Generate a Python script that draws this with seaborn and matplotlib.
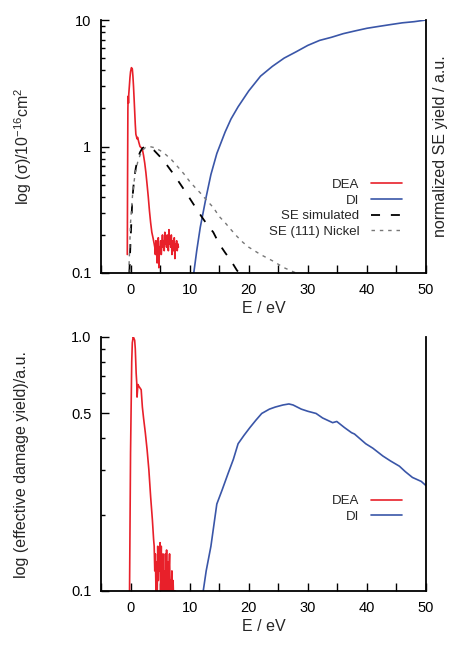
import numpy as np
import pandas as pd
import matplotlib
matplotlib.use("Agg")
import matplotlib.pyplot as plt
from matplotlib.ticker import FixedLocator, NullFormatter
import seaborn as sns

sns.set_style("ticks")
plt.rcParams["font.family"] = ["Liberation Sans", "DejaVu Sans"]
plt.rcParams["mathtext.fontset"] = "custom"
plt.rcParams["mathtext.rm"] = "Liberation Sans"
plt.rcParams["mathtext.it"] = "Liberation Sans:italic"

# --- data ---
# top panel: cross sections
dea_top_x = [-0.55, -0.5, -0.45, -0.4, -0.35, -0.3, -0.2, -0.1, 0.0, 0.15, 0.3, 0.4, 0.5,
             0.6, 0.7, 0.8, 0.9, 1.0, 1.1, 1.2, 1.4, 1.6, 1.8, 2.0, 2.2, 2.4, 2.6, 2.8,
             3.0, 3.2, 3.4, 3.6, 3.8, 4.0] + [round(4.1 + 0.1 * i, 2) for i in range(41)]
dea_top_y = [0.14, 0.6, 2.0, 2.5, 2.2, 2.6, 3.0, 3.5, 3.9, 4.2, 4.1, 3.6, 3.0,
             2.4, 1.9, 1.5, 1.25, 1.2, 1.15, 1.18, 1.08, 1.0, 0.98, 0.95, 0.85, 0.74, 0.62, 0.5,
             0.4, 0.31, 0.25, 0.21, 0.19, 0.17,
             0.16, 0.14, 0.18, 0.15, 0.12, 0.17, 0.19, 0.11, 0.16, 0.15,
             0.18, 0.14, 0.17, 0.20, 0.16, 0.18, 0.15, 0.21, 0.17, 0.19,
             0.16, 0.20, 0.18, 0.15, 0.22, 0.17, 0.19, 0.16, 0.20, 0.14,
             0.18, 0.17, 0.15, 0.19, 0.13, 0.17, 0.16, 0.18, 0.15, 0.17, 0.16]

di_top_x = [10.5, 10.7, 11.2, 11.8, 12.8, 13.6, 14.6, 16, 17, 18.2, 20, 22, 24, 26, 28,
            30, 32, 34, 36, 38, 40, 42, 44, 46, 48, 50]
di_top_y = [0.085, 0.1, 0.15, 0.23, 0.40, 0.6, 0.88, 1.3, 1.65, 2.06, 2.75, 3.6, 4.3, 5.0, 5.6,
            6.3, 6.9, 7.3, 7.8, 8.2, 8.6, 8.9, 9.2, 9.5, 9.7, 10.0]

se_sim_x = [-0.2, 0.0, 0.3, 0.6, 0.9, 1.2, 1.6, 2.0, 2.5, 3, 4, 5, 6, 7, 8, 9, 10,
            11, 12, 13, 14, 15, 16, 17, 18, 18.8]
se_sim_y = [0.1, 0.18, 0.38, 0.55, 0.68, 0.8, 0.9, 0.97, 1.0, 0.99, 0.93, 0.83, 0.73, 0.63,
            0.54, 0.46, 0.39, 0.33, 0.28, 0.24, 0.21, 0.17, 0.145, 0.125, 0.105, 0.095]

se_ni_x = [-0.3, 0.0, 0.4, 0.8, 1.2, 1.6, 2.0, 2.5, 3.2, 4, 5, 6, 7, 8, 9, 10, 11, 12,
           13, 14, 15, 16, 17, 18, 19, 20, 22, 24, 26, 28, 29]
se_ni_y = [0.1, 0.25, 0.45, 0.62, 0.75, 0.85, 0.93, 0.98, 1.0, 0.98, 0.93, 0.86, 0.78, 0.69,
           0.61, 0.53, 0.47, 0.42, 0.37, 0.33, 0.28, 0.25, 0.22, 0.195, 0.175, 0.16, 0.14,
           0.125, 0.11, 0.1, 0.095]

# bottom panel: effective damage yield
dea_bot_x = [-0.2, -0.17, 0.0, 0.2, 0.3, 0.45, 0.56, 0.7, 0.8, 0.95, 1.05, 1.1, 1.25, 1.4,
             1.6, 1.8, 2.0, 2.2, 2.5, 2.8, 3.1, 3.4, 3.7, 3.9] + \
            [round(4.0 + 0.1 * i, 2) for i in range(38)]
dea_bot_y = [0.09, 0.1, 0.35, 0.8, 0.95, 1.0, 0.99, 0.97, 0.9, 0.72, 0.66, 0.58, 0.65, 0.64,
             0.63, 0.62, 0.53, 0.48, 0.42, 0.36, 0.30, 0.235, 0.19, 0.16,
             0.15, 0.12, 0.14, 0.10, 0.13, 0.09, 0.15, 0.11, 0.14, 0.12,
             0.155, 0.10, 0.15, 0.09, 0.13, 0.14, 0.10, 0.12, 0.09, 0.14,
             0.11, 0.145, 0.10, 0.13, 0.09, 0.12, 0.14, 0.10, 0.11, 0.09,
             0.12, 0.10, 0.11, 0.09, 0.10, 0.095, 0.10, 0.09]

di_bot_x = [12.1, 12.3, 12.8, 13.6, 14.6, 15.5, 16.5, 17.4, 18.2, 19.2, 20.2, 21.2, 22.2,
            23.5, 24.5, 25.8, 26.8, 27.5, 28.9, 30, 31.4, 32.5, 34.2, 34.9, 36.2, 37.4,
            37.9, 39.8, 41, 42.7, 44, 45.5, 46.5, 47.7, 49.2, 50]
di_bot_y = [0.09, 0.1, 0.12, 0.15, 0.22, 0.25, 0.29, 0.33, 0.38, 0.41, 0.44, 0.47, 0.5,
            0.52, 0.53, 0.54, 0.545, 0.54, 0.52, 0.51, 0.50, 0.48, 0.46, 0.465, 0.44, 0.42,
            0.415, 0.38, 0.365, 0.34, 0.325, 0.31, 0.295, 0.28, 0.27, 0.26]

red = "#e8202a"
blue = "#3a56a8"

fig = plt.figure(figsize=(4.55, 6.46), dpi=100)
ax1 = fig.add_axes([101 / 455, 1 - 273 / 646, 325 / 455, 253 / 646])
ax2 = fig.add_axes([101 / 455, 1 - 591 / 646, 325 / 455, 254 / 646])

sns.lineplot(x=dea_top_x, y=dea_top_y, ax=ax1, color=red, lw=1.2, label="DEA", sort=False)
sns.lineplot(x=di_top_x, y=di_top_y, ax=ax1, color=blue, lw=1.2, label="DI")
sns.lineplot(x=se_sim_x, y=se_sim_y, ax=ax1, color="black", lw=1.3, label="SE simulated",
             linestyle=(0, (5, 6)))
sns.lineplot(x=se_ni_x, y=se_ni_y, ax=ax1, color="#777777", lw=1.0, label="SE (111) Nickel",
             linestyle=(0, (2.5, 3.5)))

sns.lineplot(x=dea_bot_x, y=dea_bot_y, ax=ax2, color=red, lw=1.2, label="DEA", sort=False)
sns.lineplot(x=di_bot_x, y=di_bot_y, ax=ax2, color=blue, lw=1.2, label="DI")

for ax in (ax1, ax2):
    ax.set_yscale("log")
    ax.set_xlim(-5, 50)
    ax.xaxis.set_major_locator(FixedLocator([0, 10, 20, 30, 40, 50]))
    ax.xaxis.set_minor_locator(FixedLocator([-5, 5, 15, 25, 35, 45]))
    ax.spines["top"].set_visible(False)
    for s in ("left", "bottom", "right"):
        ax.spines[s].set_linewidth(1.3)
        ax.spines[s].set_color("black")
    ax.tick_params(axis="both", which="both", direction="in", top=False, right=False,
                   labelsize=10.5, width=1.0, colors="black")
    ax.tick_params(axis="x", which="both", length=6, pad=7)
    ax.tick_params(axis="y", which="major", length=6, pad=7)
    ax.tick_params(axis="y", which="minor", length=3)
    ax.set_xlabel("E / eV", fontsize=11.5, labelpad=3)
    ax.yaxis.set_minor_formatter(NullFormatter())

leg_kw = dict(loc="upper right", frameon=False, markerfirst=False, fontsize=9.5,
              handlelength=2.3, handletextpad=0.9, labelspacing=0.25, borderaxespad=0)

ax1.set_ylim(0.1, 10)
ax1.set_yticks([0.1, 1, 10], ["0.1", "1", "10"])
ax1.yaxis.set_minor_locator(FixedLocator([m * d for d in (0.1, 1) for m in range(2, 10)]))
ax1.set_ylabel("log (σ)/10$^{-16}$cm$^2$", fontsize=11.5)
ax1.yaxis.set_label_coords(-0.205, 0.5)
ax1.text(1.045, 0.5, "normalized SE yield / a.u.", transform=ax1.transAxes, rotation=90,
         va="center", ha="center", fontsize=11.5)
ax1.legend(bbox_to_anchor=(0.9415, 0.393), **leg_kw)

ax2.set_ylim(0.1, 1.0)
ax2.set_yticks([0.1, 0.5, 1.0], ["0.1", "0.5", "1.0"])
ax2.yaxis.set_minor_locator(FixedLocator([0.2, 0.3, 0.4, 0.6, 0.7, 0.8, 0.9]))
ax2.set_ylabel("log (effective damage yield)/a.u.", fontsize=11.5)
ax2.yaxis.set_label_coords(-0.22, 0.5)
ax2.legend(bbox_to_anchor=(0.9415, 0.398), **leg_kw)

fig.savefig("out.png", dpi=100)
